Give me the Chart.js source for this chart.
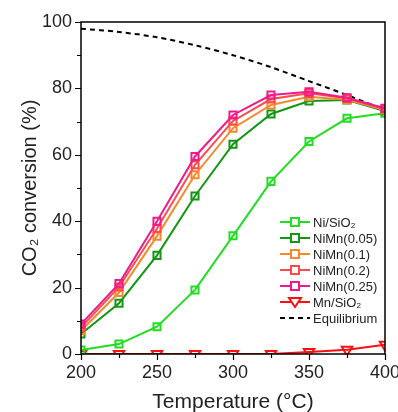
<!DOCTYPE html>
<html>
<head>
<meta charset="utf-8">
<script src="https://cdn.jsdelivr.net/npm/chart.js@4.4.0/dist/chart.umd.min.js"></script>
<style>
  html, body { margin: 0; padding: 0; background: #fff; }
  #wrap { width: 398px; height: 412px; }
</style>
</head>
<body>
<div id="wrap"><canvas id="chart" width="398" height="412"></canvas></div>
<script>
// temperatures (°C)
const temps = [200, 225, 250, 275, 300, 325, 350, 375, 400];

// CO2 conversion (%) per catalyst
const niSiO2 = [1.2, 3.0, 8.2, 19.3, 35.6, 52.0, 64.0, 71.0, 72.5];
const niMn005 = [6.0, 15.3, 29.7, 47.6, 63.2, 72.3, 76.2, 76.5, 73.2];
const niMn01 = [7.0, 18.5, 35.5, 54.0, 68.0, 75.0, 77.5, 76.6, 73.5];
const niMn02 = [8.0, 20.2, 37.8, 57.0, 70.2, 76.8, 78.5, 77.0, 73.8];
const niMn025 = [9.0, 21.2, 40.0, 59.5, 72.0, 78.0, 79.0, 77.2, 74.0];
const mnSiO2 = [0, 0, 0, 0, 0, 0, 0.6, 1.3, 2.8];
const equilibrium = [98.0, 97.0, 95.4, 93.0, 90.0, 86.4, 82.2, 78.0, 73.5];

const xTicks = [200, 250, 300, 350, 400];
const yTicks = [0, 20, 40, 60, 80, 100];

const toPts = (ys) => ys.map((y, i) => ({ x: temps[i], y: y }));

function series(label, ys, color, shape) {
  return {
    label: label,
    data: toPts(ys),
    borderColor: color,
    backgroundColor: "#ffffff",
    pointBorderColor: color,
    pointBackgroundColor: "rgba(255,255,255,0)",
    borderWidth: 2,
    pointBorderWidth: 2,
    pointStyle: shape || "rect",
    pointRadius: shape === "triangle" ? 6 : 5,
    pointRotation: shape === "triangle" ? 180 : 0,
    tension: 0,
  };
}

const datasets = [
  series("NiMn(0.25)", niMn025, "#ee1b8c"),
  series("NiMn(0.2)", niMn02, "#ff4a4a"),
  series("NiMn(0.1)", niMn01, "#f5892e"),
  series("NiMn(0.05)", niMn005, "#149614"),
  series("Ni/SiO₂", niSiO2, "#22dd22"),
  series("Mn/SiO₂", mnSiO2, "#ff1010", "triangle"),
  {
    label: "Equilibrium",
    data: toPts(equilibrium),
    borderColor: "#000",
    borderWidth: 2,
    borderDash: [5, 4],
    pointRadius: 0,
    tension: 0.3,
  },
];

const legendItems = [
  { text: "Ni/SiO₂", color: "#22dd22", shape: "rect" },
  { text: "NiMn(0.05)", color: "#149614", shape: "rect" },
  { text: "NiMn(0.1)", color: "#f5892e", shape: "rect" },
  { text: "NiMn(0.2)", color: "#ff4a4a", shape: "rect" },
  { text: "NiMn(0.25)", color: "#ee1b8c", shape: "rect" },
  { text: "Mn/SiO₂", color: "#ff1010", shape: "tri" },
  { text: "Equilibrium", color: "#000", shape: "dash" },
];

const frame = {
  id: "frame",
  afterDraw(chart) {
    const ctx = chart.ctx;
    const a = chart.chartArea;
    const xs = chart.scales.x, ys = chart.scales.y;
    ctx.save();
    ctx.strokeStyle = "#000";
    ctx.lineWidth = 1.5;
    ctx.strokeRect(a.left, a.top, a.right - a.left, a.bottom - a.top);
    ctx.beginPath();
    for (let v = 0; v <= 100; v += 10) {
      const y = Math.round(ys.getPixelForValue(v)) + 0.5;
      const len = v % 20 === 0 ? 6 : 4;
      ctx.moveTo(a.left, y); ctx.lineTo(a.left - len, y);
    }
    for (let v = 200; v <= 400; v += 25) {
      const x = Math.round(xs.getPixelForValue(v)) + 0.5;
      const len = v % 50 === 0 ? 6 : 4;
      ctx.moveTo(x, a.bottom); ctx.lineTo(x, a.bottom + len);
    }
    ctx.lineWidth = 1.2;
    ctx.stroke();

    // legend
    ctx.font = "13px 'Liberation Sans', Arial, sans-serif";
    ctx.textBaseline = "middle";
    let y0 = 222;
    legendItems.forEach((it, i) => {
      const y = y0 + i * 16;
      ctx.strokeStyle = it.color;
      ctx.lineWidth = 2;
      if (it.shape === "dash") {
        ctx.setLineDash([5, 4]);
        ctx.beginPath(); ctx.moveTo(280, y); ctx.lineTo(310, y); ctx.stroke();
        ctx.setLineDash([]);
      } else {
        ctx.beginPath(); ctx.moveTo(280, y); ctx.lineTo(310, y); ctx.stroke();
        ctx.fillStyle = "#fff";
        if (it.shape === "rect") {
          ctx.fillRect(291, y - 4, 8, 8);
          ctx.strokeRect(291, y - 4, 8, 8);
        } else {
          ctx.beginPath();
          ctx.moveTo(289, y - 4); ctx.lineTo(301, y - 4); ctx.lineTo(295, y + 5);
          ctx.closePath(); ctx.fill(); ctx.stroke();
        }
      }
      ctx.fillStyle = "#222";
      ctx.fillText(it.text, 313, y + 1);
    });
    ctx.restore();
  },
};

new Chart(document.getElementById("chart").getContext("2d"), {
  type: "line",
  data: { datasets: datasets },
  options: {
    responsive: false,
    animation: false,
    layout: { padding: { top: 22, right: 13, left: 18, bottom: 0 } },
    plugins: { legend: { display: false }, tooltip: { enabled: false } },
    scales: {
      x: {
        type: "linear",
        min: 200,
        max: 400,
        afterBuildTicks: (s) => { s.ticks = xTicks.map((v) => ({ value: v })); },
        afterFit: (s) => { s.height = 58; s.paddingLeft = 0; s.paddingRight = 0; },
        grid: { display: false, drawTicks: false },
        border: { display: false },
        ticks: {
          color: "#222",
          padding: 8,
          font: { family: "'Liberation Sans', Arial, sans-serif", size: 18 },
        },
        title: {
          display: true,
          text: "Temperature (°C)",
          color: "#222",
          padding: { top: 7, bottom: -3 },
          font: { family: "'Liberation Sans', Arial, sans-serif", size: 21 },
        },
      },
      y: {
        min: 0,
        max: 100,
        afterBuildTicks: (s) => { s.ticks = yTicks.map((v) => ({ value: v })); },
        afterFit: (s) => { s.width = 63; s.paddingTop = 0; s.paddingBottom = 0; },
        grid: { display: false, drawTicks: false },
        border: { display: false },
        ticks: {
          color: "#222",
          padding: 9,
          font: { family: "'Liberation Sans', Arial, sans-serif", size: 18 },
        },
        title: {
          display: true,
          text: "CO₂ conversion (%)",
          color: "#222",
          padding: { top: 0, bottom: 4 },
          font: { family: "'Liberation Sans', Arial, sans-serif", size: 20 },
        },
      },
    },
  },
  plugins: [frame],
});
</script>
</body>
</html>
